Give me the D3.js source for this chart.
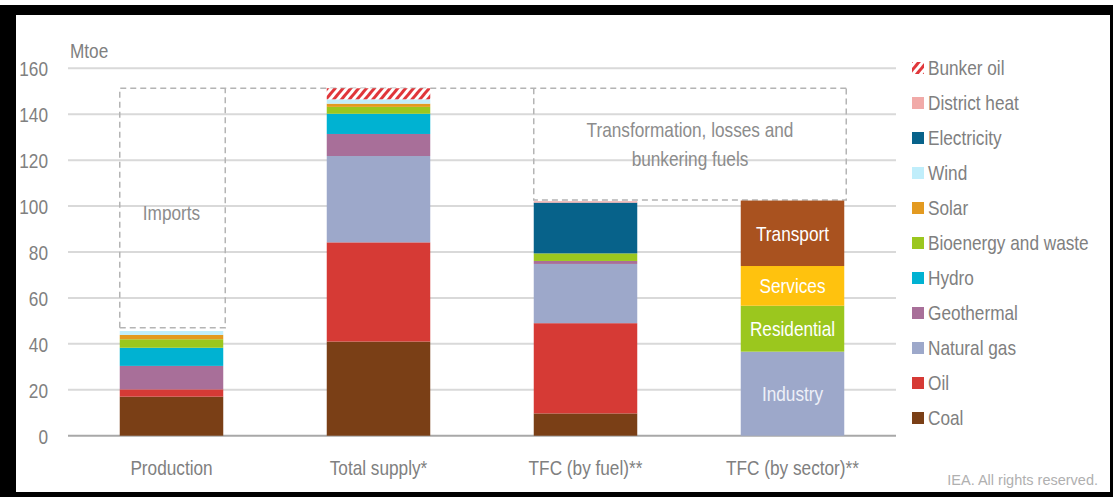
<!DOCTYPE html>
<html>
<head>
<meta charset="utf-8">
<script src="https://cdn.jsdelivr.net/npm/d3@7"></script>
<style>
  html, body { margin: 0; padding: 0; background: #fff; }
  svg { display: block; }
  text { font-family: "Liberation Sans", Arial, sans-serif; }
</style>
</head>
<body>
<svg id="chart" width="1113" height="497"></svg>
<script>
// Energy balance, Mtoe
const categories = ["Production", "Total supply*", "TFC (by fuel)**", "TFC (by sector)**"];

const fuelKeys = ["Coal", "Oil", "Natural gas", "Geothermal", "Hydro", "Bioenergy and waste",
                  "Solar", "Wind", "Electricity", "District heat", "Bunker oil"];

const coal         = [17.0, 41.0,  9.7, 0];
const oil          = [ 3.2, 43.2, 39.3, 0];
const naturalGas   = [ 0.0, 37.6, 25.8, 0];
const geothermal   = [10.2,  9.6,  1.3, 0];
const hydro        = [ 7.9,  8.8,  0.0, 0];
const bioenergy    = [ 3.7,  3.0,  3.3, 0];
const solar        = [ 1.9,  1.4,  0.0, 0];
const wind         = [ 1.7,  1.9,  0.0, 0];
const electricity  = [ 0.0,  0.0, 22.1, 0];
const districtHeat = [ 0.0,  0.0,  0.6, 0];
const bunkerOil    = [ 0.0,  4.8,  0.0, 0];

const sectorKeys   = ["Industry", "Residential", "Services", "Transport"];
const sectorValues = [36.6, 20.0, 17.3, 28.5];

const yTicks = [0, 20, 40, 60, 80, 100, 120, 140, 160];

// dashed outlines: imports (production -> supply) and transformation losses (supply -> TFC)
const importsRange   = [47.0, 151.3];
const transformRange = [102.6, 151.3];

const fuelSeries = [coal, oil, naturalGas, geothermal, hydro, bioenergy, solar, wind,
                    electricity, districtHeat, bunkerOil];

const fuelColors = {
  "Coal": "#7a3f16",
  "Oil": "#d63a35",
  "Natural gas": "#9da8ca",
  "Geothermal": "#a86f99",
  "Hydro": "#00b2d2",
  "Bioenergy and waste": "#9bc71e",
  "Solar": "#e39a20",
  "Wind": "#c0eefb",
  "Electricity": "#07628a",
  "District heat": "#f1aaa8",
  "Bunker oil": "url(#bunkerHatch)"
};
const sectorColors = {
  "Industry": "#9da8ca",
  "Residential": "#9bc71e",
  "Services": "#ffc20e",
  "Transport": "#a9521f"
};

const svg = d3.select("#chart");
const W = 1113, H = 497;
const FS = "21px";          // label size
const NARROW = 0.82;        // horizontal condensing of the label face

// frame
svg.append("rect").attr("x", 0).attr("y", 0).attr("width", W).attr("height", H).attr("fill", "#fff");
svg.append("rect").attr("x", 0).attr("y", 5).attr("width", W).attr("height", H - 5).attr("fill", "#000");
svg.append("rect").attr("x", 16).attr("y", 15).attr("width", 1094).attr("height", 477).attr("fill", "#fff");

// hatch for bunker oil
const defs = svg.append("defs");
const pat = defs.append("pattern")
  .attr("id", "bunkerHatch")
  .attr("patternUnits", "userSpaceOnUse")
  .attr("width", 6).attr("height", 6)
  .attr("patternTransform", "rotate(40)");
pat.append("rect").attr("width", 6).attr("height", 6).attr("fill", "#fff");
pat.append("rect").attr("width", 3).attr("height", 6).attr("fill", "#e0363a");

const plot = { left: 68, right: 896, top: 68.3, bottom: 435.7 };

const x = d3.scaleBand()
  .domain(categories)
  .range([plot.left, plot.right])
  .paddingInner(0.5)
  .paddingOuter(0.25);

const y = d3.scaleLinear()
  .domain([0, 160])
  .range([plot.bottom, plot.top]);

const textGrey = "#808080";

// gridlines
svg.append("g")
  .selectAll("line")
  .data(yTicks)
  .join("line")
  .attr("x1", plot.left).attr("x2", plot.right)
  .attr("y1", d => y(d)).attr("y2", d => y(d))
  .attr("stroke", d => d === 0 ? "#a8a8a8" : "#d9d9d9")
  .attr("stroke-width", 2);

// y axis labels
const yAxis = d3.axisLeft(y).tickValues(yTicks).tickSize(0).tickPadding(0);
const yg = svg.append("g").attr("transform", `translate(48,0)`).call(yAxis);
yg.select(".domain").remove();
yg.selectAll("text")
  .classed("narrow", true)
  .attr("fill", textGrey)
  .style("font-size", FS)
  .attr("dy", "0.35em");

svg.append("text")
  .classed("narrow", true)
  .attr("x", 70).attr("y", 58)
  .attr("fill", textGrey)
  .style("font-size", FS)
  .text("Mtoe");

// dashed outlines
const dashStyle = sel => sel.attr("fill", "none").attr("stroke", "#b4b4b4")
  .attr("stroke-width", 1.5).attr("stroke-dasharray", "6,4");

const prodX0 = x(categories[0]), prodX1 = x(categories[0]) + x.bandwidth() + 2;
const tfcX0 = x(categories[2]), tfcX1 = x(categories[3]) + x.bandwidth() + 2;

const dashG = svg.append("g");
dashG.append("path").call(dashStyle)
  .attr("d", `M${prodX0},${y(importsRange[0])}V${y(importsRange[1])}H${tfcX1}`);
dashG.append("path").call(dashStyle)
  .attr("d", `M${prodX0},${y(importsRange[0])}H${prodX1}V${y(importsRange[1])}`);
dashG.append("path").call(dashStyle)
  .attr("d", `M${tfcX0},${y(transformRange[1])}V${y(transformRange[0])}H${tfcX1}V${y(transformRange[1])}`);

// fuel stacks
const fuelRows = categories.map((c, i) => {
  const row = { category: c };
  fuelKeys.forEach((k, j) => { row[k] = fuelSeries[j][i]; });
  return row;
});
const fuelStack = d3.stack().keys(fuelKeys)(fuelRows);

svg.append("g")
  .selectAll("g")
  .data(fuelStack)
  .join("g")
  .attr("fill", d => fuelColors[d.key])
  .selectAll("rect")
  .data(d => d.filter(s => s[1] - s[0] > 0))
  .join("rect")
  .attr("x", d => x(d.data.category))
  .attr("width", x.bandwidth())
  .attr("y", d => y(d[1]))
  .attr("height", d => y(d[0]) - y(d[1]));

// sector stack
const sectorRow = { category: categories[3] };
sectorKeys.forEach((k, j) => { sectorRow[k] = sectorValues[j]; });
const sectorStack = d3.stack().keys(sectorKeys)([sectorRow]);

const secG = svg.append("g");
secG.selectAll("rect")
  .data(sectorStack)
  .join("rect")
  .attr("fill", d => sectorColors[d.key])
  .attr("x", x(categories[3]))
  .attr("width", x.bandwidth())
  .attr("y", d => y(d[0][1]))
  .attr("height", d => y(d[0][0]) - y(d[0][1]));
secG.selectAll("text")
  .data(sectorStack)
  .join("text")
  .classed("narrow", true)
  .attr("x", x(categories[3]) + x.bandwidth() / 2)
  .attr("y", d => y((d[0][0] + d[0][1]) / 2))
  .attr("dy", "0.35em")
  .attr("text-anchor", "middle")
  .attr("fill", d => d.key === "Industry" ? "#eef0f8" : "#fff")
  .style("font-size", FS)
  .text(d => d.key);

// annotations
svg.append("text")
  .classed("narrow", true)
  .attr("x", x(categories[0]) + x.bandwidth() / 2)
  .attr("y", y(97))
  .attr("dy", "0.35em")
  .attr("text-anchor", "middle")
  .attr("fill", "#8c8c8c")
  .style("font-size", FS)
  .text("Imports");

const trX = (tfcX0 + tfcX1) / 2;
[["Transformation, losses and", 133.2], ["bunkering fuels", 120.5]].forEach(([t, v]) => {
  svg.append("text")
    .classed("narrow", true)
    .attr("x", trX).attr("y", y(v))
    .attr("dy", "0.35em")
    .attr("text-anchor", "middle")
    .attr("fill", "#8c8c8c")
    .style("font-size", FS)
    .text(t);
});

// category labels
const xAxis = d3.axisBottom(x).tickSize(0).tickPadding(0);
const xg = svg.append("g").attr("transform", `translate(0,${468})`).call(xAxis);
xg.select(".domain").remove();
xg.selectAll("text")
  .classed("narrow", true)
  .attr("fill", textGrey)
  .attr("dy", "0.35em")
  .style("font-size", FS);

// legend (top to bottom, reverse of stacking order)
const legendKeys = fuelKeys.slice().reverse();
const lg = svg.append("g").attr("transform", "translate(912,68)");
const item = lg.selectAll("g")
  .data(legendKeys)
  .join("g")
  .attr("transform", (d, i) => `translate(0,${i * 35})`);
item.append("rect")
  .attr("x", 0).attr("y", -6)
  .attr("width", 12).attr("height", 12)
  .attr("fill", d => fuelColors[d]);
item.append("text")
  .classed("narrow", true)
  .attr("x", 16).attr("y", 0)
  .attr("dy", "0.35em")
  .attr("fill", textGrey)
  .style("font-size", FS)
  .text(d => d);

svg.append("text")
  .attr("x", 1098).attr("y", 485)
  .attr("text-anchor", "end")
  .attr("fill", "#b0b0b0")
  .style("font-size", "14.5px")
  .text("IEA. All rights reserved.");

// condense label text around its anchor point
svg.selectAll("text.narrow").each(function () {
  const t = d3.select(this);
  const tx = +t.attr("x") || 0, ty = +t.attr("y") || 0;
  t.attr("x", 0).attr("y", 0)
   .attr("transform", `translate(${tx},${ty}) scale(${NARROW},1)`);
});
</script>
</body>
</html>
